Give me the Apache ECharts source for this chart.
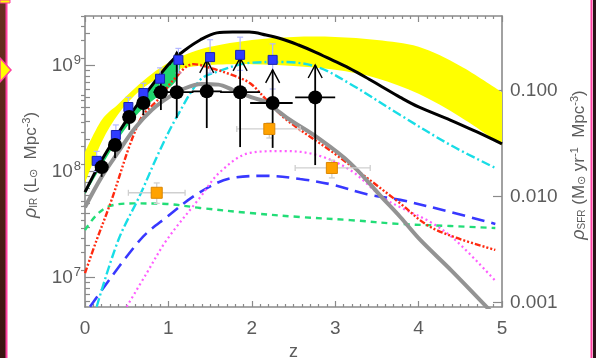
<!DOCTYPE html>
<html>
<head>
<meta charset="utf-8">
<script src="https://cdn.jsdelivr.net/npm/echarts@6/dist/echarts.min.js"></script>
<style>
  html, body { margin: 0; padding: 0; background: #fff; }
  #chart { width: 596px; height: 358px; }
</style>
</head>
<body>
<div id="chart"></div>
<script>
// IR luminosity density vs redshift, with the equivalent star-formation-rate density
// on the right axis (rho_SFR = 1.72e-10 * rho_IR).
const SFR_PER_LIR = 1.72e-10;
const Y_MIN = 5.27e6;
const Y_MAX = 2.93e9;

// x-axis (redshift) range and ticks
const zMin = 0, zMax = 5, zStep = 1;

// left / right tick values
const irMajorTicks = [1e7, 1e8, 1e9];
const irMinorTicks = [6e6, 7e6, 8e6, 9e6, 2e7, 3e7, 4e7, 5e7, 6e7, 7e7, 8e7, 9e7,
                      2e8, 3e8, 4e8, 5e8, 6e8, 7e8, 8e8, 9e8, 2e9];
const sfrMajorTicks = [0.001, 0.01, 0.1];
const sfrMinorTicks = [0.002, 0.003, 0.004, 0.005, 0.006, 0.007, 0.008, 0.009,
                       0.02, 0.03, 0.04, 0.05, 0.06, 0.07, 0.08, 0.09, 0.2, 0.3, 0.4, 0.5];

// yellow uncertainty band
const bandZ    = [0, 0.2, 0.4, 0.6, 0.8, 1.0, 1.2, 1.5, 2.0, 2.5, 3.0, 3.5, 4.0, 4.5, 5.0];
const bandLow  = [7.8e7, 1.9e8, 3.48e8, 5.27e8, 6.98e8, 8.5e8, 9.5e8, 1.01e9, 1.03e9, 9.9e8, 9.1e8, 7.6e8, 5.4e8, 3.27e8, 1.78e8];
const bandHigh = [1.53e8, 3.06e8, 4.34e8, 6.14e8, 8.32e8, 1.06e9, 1.26e9, 1.50e9, 1.74e9, 1.86e9, 1.86e9, 1.74e9, 1.50e9, 9.9e8, 5.6e8];

// green band (low redshift)
const gBandZ    = [0, 0.3, 0.5, 0.7, 0.9, 1.1, 1.15];
const gBandLow  = [6.1e7, 1.53e8, 2.63e8, 3.97e8, 5.3e8, 7.3e8, 1.13e9];
const gBandHigh = [6.7e7, 1.70e8, 3.06e8, 5.0e8, 8.1e8, 1.26e9, 1.34e9];

// model curves
const blackZ   = [0, 0.2, 0.4, 0.54, 0.78, 1.02, 1.2, 1.38, 1.58, 1.77, 1.97, 2.17, 2.36, 2.56, 2.76, 2.96, 3.16, 3.36, 3.56, 3.78, 4.0, 4.38, 4.7, 5.0];
const blackVal = [6.4e7, 1.28e8, 2.31e8, 3.41e8, 6.14e8, 1.06e9, 1.40e9, 1.74e9, 2.03e9, 2.07e9, 2.07e9, 1.94e9, 1.78e9, 1.56e9, 1.34e9, 1.13e9, 9.5e8, 7.8e8, 6.3e8, 5.0e8, 4.06e8, 3.06e8, 2.36e8, 1.82e8];

const grayZ   = [0, 0.2, 0.4, 0.6, 0.8, 1.0, 1.2, 1.4, 1.6, 1.77, 2.0, 2.18, 2.3, 2.46, 2.78, 3.18, 3.56, 3.78, 4.02, 4.4, 4.9];
const grayVal = [4.6e7, 8.9e7, 1.53e8, 2.57e8, 3.8e8, 5.0e8, 6.1e8, 6.7e8, 6.6e8, 5.9e8, 5.0e8, 4.5e8, 3.8e8, 3.06e8, 2.11e8, 1.20e8, 5.7e7, 3.72e7, 2.26e7, 1.15e7, 4.5e6];

const cyanZ   = [0.14, 0.4, 0.66, 0.9, 1.1, 1.38, 1.58, 1.98, 2.37, 2.78, 3.18, 3.78, 4.38, 4.92];
const cyanVal = [5.3e6, 2.26e7, 6.0e7, 1.60e8, 3.27e8, 7.3e8, 8.7e8, 1.06e9, 1.08e9, 9.7e8, 6.7e8, 3.41e8, 1.78e8, 1.08e8];

const redZ   = [0, 0.14, 0.3, 0.66, 0.9, 1.06, 1.3, 1.5, 1.77, 1.98, 2.18, 2.42, 3.0, 3.78, 4.1, 4.46, 4.92];
const redVal = [1.10e7, 2.26e7, 4.9e7, 3.06e8, 5.0e8, 7.3e8, 1.03e9, 9.5e8, 8.1e8, 6.8e8, 4.7e8, 3.06e8, 1.46e8, 5.0e7, 3.13e7, 2.36e7, 1.82e7];

const blueDashZ   = [0.06, 0.66, 0.98, 1.38, 1.77, 2.18, 2.58, 2.97, 3.38, 3.78, 4.38, 4.92];
const blueDashVal = [5.3e6, 2.26e7, 3.72e7, 6.4e7, 8.7e7, 9.1e7, 8.5e7, 7.5e7, 6.1e7, 5.4e7, 4.15e7, 3.2e7];

const pinkZ   = [0.5, 0.74, 0.98, 1.38, 1.62, 1.98, 2.37, 2.78, 3.18, 3.57, 3.78, 4.14, 4.44, 4.92];
const pinkVal = [5.3e6, 1.10e7, 2.26e7, 5.7e7, 9.9e7, 1.50e8, 1.56e8, 1.43e8, 1.03e8, 5.7e7, 4.6e7, 3.34e7, 2.26e7, 9.3e6];

const greenDashZ   = [0, 0.14, 0.3, 0.58, 0.98, 1.38, 1.98, 2.58, 3.18, 3.78, 4.38, 4.92];
const greenDashVal = [2.8e7, 3.9e7, 4.73e7, 5.0e7, 4.94e7, 4.53e7, 4.06e7, 3.72e7, 3.48e7, 3.2e7, 3.06e7, 2.93e7];

// black points: IR measurements (last five are lower limits)
const irZ     = [0.20, 0.36, 0.53, 0.70, 0.91, 1.10, 1.46, 1.86, 2.25, 2.76];
const irVal   = [1.10e8, 1.78e8, 3.27e8, 4.43e8, 5.6e8, 5.6e8, 5.7e8, 5.6e8, 4.43e8, 5.0e8];
const irZLo   = [0.12, 0.29, 0.45, 0.62, 0.82, 0.90, 1.28, 1.62, 1.98, 2.52];
const irZHi   = [0.28, 0.43, 0.61, 0.78, 1.00, 1.30, 1.64, 2.10, 2.49, 3.00];
const irLo    = [8.9e7, 1.34e8, 2.47e8, 3.41e8, 3.8e8, 3.2e8, 2.57e8, 1.70e8, 1.67e8, 1.15e8];
const irHi    = [1.37e8, 2.31e8, 4.2e8, 5.6e8, 7.3e8, 1.34e9, 1.13e9, 1.18e9, 9.1e8, 1.01e9];
const irLimit = [false, false, false, false, false, true, true, true, true, true];

// blue squares
const blueZ   = [0.14, 0.37, 0.52, 0.70, 0.90, 1.12, 1.50, 1.86, 2.25];
const blueVal = [1.26e8, 2.21e8, 4.06e8, 5.5e8, 7.5e8, 1.13e9, 1.20e9, 1.26e9, 1.13e9];
const blueLo  = [1.0e8, 1.75e8, 3.3e8, 4.4e8, 6.0e8, 8.5e8, 8.5e8, 9.0e8, 6.0e8];
const blueHi  = [1.55e8, 2.75e8, 5.0e8, 6.8e8, 9.5e8, 1.45e9, 1.75e9, 1.85e9, 1.6e9];

// orange squares
const orangeZ   = [0.86, 2.21, 2.96];
const orangeVal = [6.3e7, 2.52e8, 1.08e8];
const orangeZLo = [0.52, 1.82, 2.52];
const orangeZHi = [1.20, 2.58, 3.42];
const orangeLo  = [5.0e7, 2.07e8, 8.7e7];
const orangeHi  = [7.8e7, 2.87e8, 1.28e8];

const FONT = '"Liberation Sans", Arial, Helvetica, sans-serif';
const AXIS_GRAY = '#8a8a8a';
const LABEL_GRAY = '#5c5c5c';

function pairs(zs, vs) { return zs.map((z, i) => [z, vs[i]]); }

function curve(zs, vs, color, width, dash, z) {
  return {
    type: 'line', xAxisIndex: 0, yAxisIndex: 0, data: pairs(zs, vs),
    smooth: 0.35, showSymbol: false, symbol: 'none', silent: true, clip: true, z: z,
    lineStyle: { color: color, width: width, type: dash, cap: 'butt', opacity: 1 }
  };
}

// Catmull-Rom smoothed path segment through pixel points (continuing an open path)
function smoothSegments(pts) {
  let d = '';
  for (let i = 0; i < pts.length - 1; i++) {
    const p0 = pts[Math.max(i - 1, 0)], p1 = pts[i], p2 = pts[i + 1], p3 = pts[Math.min(i + 2, pts.length - 1)];
    const c1 = [p1[0] + (p2[0] - p0[0]) / 6, p1[1] + (p2[1] - p0[1]) / 6];
    const c2 = [p2[0] - (p3[0] - p1[0]) / 6, p2[1] - (p3[1] - p1[1]) / 6];
    d += ' C' + c1[0] + ' ' + c1[1] + ' ' + c2[0] + ' ' + c2[1] + ' ' + p2[0] + ' ' + p2[1];
  }
  return d;
}

function band(zs, lows, highs, color, z) {
  return {
    type: 'custom', xAxisIndex: 0, yAxisIndex: 0, clip: true, silent: true, z: z,
    encode: { x: 0, y: 1 },
    data: [[zs[0], lows[0]]],
    renderItem: function (params, api) {
      const top = zs.map((zz, i) => api.coord([zz, highs[i]]));
      const bot = zs.map((zz, i) => api.coord([zz, lows[i]])).reverse();
      let d = 'M' + top[0][0] + ' ' + top[0][1] + smoothSegments(top);
      d += ' L' + bot[0][0] + ' ' + bot[0][1] + smoothSegments(bot) + ' Z';
      return { type: 'path', shape: { pathData: d }, style: { fill: color, stroke: null } };
    }
  };
}

function errorBars(zs, vs, zlo, zhi, vlo, vhi, opts) {
  return {
    type: 'custom', xAxisIndex: 0, yAxisIndex: 0, clip: true, silent: true, z: opts.z,
    encode: { x: 0, y: 1 },
    data: zs.map((z, i) => [z, vs[i], zlo[i], zhi[i], vlo[i], vhi[i]]),
    renderItem: function (params, api) {
      const i = params.dataIndex;
      const z = api.value(0), v = api.value(1);
      const c = api.coord([z, v]);
      const xl = api.coord([api.value(2), v])[0];
      const xh = api.coord([api.value(3), v])[0];
      const yl = api.coord([z, api.value(4)])[1];
      const yh = api.coord([z, api.value(5)])[1];
      const st = { stroke: opts.color, lineWidth: opts.width, fill: null };
      const kids = [];
      if (xh - xl > 0.5) kids.push({ type: 'line', shape: { x1: xl, y1: c[1], x2: xh, y2: c[1] }, style: st });
      kids.push({ type: 'line', shape: { x1: c[0], y1: yl, x2: c[0], y2: yh }, style: st });
      if (opts.cap) {
        const k = opts.cap;
        kids.push({ type: 'line', shape: { x1: c[0] - k, y1: yl, x2: c[0] + k, y2: yl }, style: st });
        kids.push({ type: 'line', shape: { x1: c[0] - k, y1: yh, x2: c[0] + k, y2: yh }, style: st });
        if (xh - xl > 0.5) {
          kids.push({ type: 'line', shape: { x1: xl, y1: c[1] - k, x2: xl, y2: c[1] + k }, style: st });
          kids.push({ type: 'line', shape: { x1: xh, y1: c[1] - k, x2: xh, y2: c[1] + k }, style: st });
        }
      }
      if (opts.limits && opts.limits[i]) {
        kids.push({ type: 'polyline',
          shape: { points: [[c[0] - 7, yh + 13], [c[0], yh], [c[0] + 7, yh + 13]] },
          style: { stroke: opts.color, lineWidth: 1.4, fill: null } });
      }
      return { type: 'group', children: kids };
    }
  };
}

const tickStyle = { color: AXIS_GRAY, width: 1.2 };
const lineStyle = { color: AXIS_GRAY, width: 1.6 };

const xAxes = [
  { type: 'value', position: 'bottom', min: zMin, max: zMax, interval: zStep,
    axisLine: { show: true, onZero: false, lineStyle: lineStyle },
    axisTick: { show: true, inside: true, length: 6, lineStyle: tickStyle },
    minorTick: { show: true, splitNumber: 10, length: 3, lineStyle: tickStyle },
    splitLine: { show: false }, minorSplitLine: { show: false },
    axisLabel: { margin: 12, fontSize: 19, color: LABEL_GRAY, fontFamily: FONT },
    name: 'z', nameLocation: 'middle', nameGap: 35,
    nameTextStyle: { fontSize: 18, color: LABEL_GRAY, fontFamily: FONT } },
  { type: 'value', position: 'top', min: zMin, max: zMax, interval: zStep,
    axisLine: { show: true, onZero: false, lineStyle: lineStyle },
    axisTick: { show: true, inside: true, length: 6, lineStyle: tickStyle },
    minorTick: { show: true, splitNumber: 10, length: 3, lineStyle: tickStyle },
    splitLine: { show: false }, axisLabel: { show: false } }
];

const yAxes = [
  { type: 'log', logBase: 10, position: 'left', min: Y_MIN, max: Y_MAX,
    axisLine: { show: true, onZero: false, lineStyle: lineStyle },
    axisTick: { show: true, inside: true, length: 10, lineStyle: tickStyle, customValues: irMajorTicks },
    minorTick: { show: false }, splitLine: { show: false },
    axisLabel: { show: true, margin: 4, customValues: irMajorTicks,
      formatter: function (v) { return '{b|10}{s|' + Math.round(Math.log10(v)) + '}'; },
      rich: {
        b: { fontSize: 19, color: LABEL_GRAY, fontFamily: FONT },
        s: { fontSize: 13, color: LABEL_GRAY, fontFamily: FONT, padding: [0, 0, 10, 1] }
      } } },
  { type: 'log', logBase: 10, position: 'left', min: Y_MIN, max: Y_MAX,
    axisLine: { show: false },
    axisTick: { show: true, inside: true, length: 5, lineStyle: tickStyle, customValues: irMinorTicks },
    axisLabel: { show: false }, splitLine: { show: false }, minorTick: { show: false } },
  { type: 'log', logBase: 10, position: 'right', min: Y_MIN * SFR_PER_LIR, max: Y_MAX * SFR_PER_LIR,
    axisLine: { show: true, onZero: false, lineStyle: lineStyle },
    axisTick: { show: true, inside: true, length: 9, lineStyle: tickStyle, customValues: sfrMajorTicks },
    minorTick: { show: false }, splitLine: { show: false },
    axisLabel: { show: true, margin: 8, customValues: sfrMajorTicks, fontSize: 19,
      color: LABEL_GRAY, fontFamily: FONT,
      formatter: function (v) { return v.toFixed(3); } } },
  { type: 'log', logBase: 10, position: 'right', min: Y_MIN * SFR_PER_LIR, max: Y_MAX * SFR_PER_LIR,
    axisLine: { show: false },
    axisTick: { show: true, inside: true, length: 4, lineStyle: tickStyle, customValues: sfrMinorTicks },
    axisLabel: { show: false }, splitLine: { show: false }, minorTick: { show: false } }
];

const series = [
  band(bandZ, bandLow, bandHigh, '#ffff00', 1),
  band(gBandZ, gBandLow, gBandHigh, '#1fd66e', 2),
  curve(greenDashZ, greenDashVal, '#22dd77', 2.4, [6, 5], 3),
  curve(blueDashZ, blueDashVal, '#3838ff', 2.6, [13, 7], 3),
  curve(pinkZ, pinkVal, '#ff5cff', 2.2, [2, 3], 3),
  curve(cyanZ, cyanVal, '#18dde6', 2.4, [9, 3, 2, 3], 3),
  curve(redZ, redVal, '#ff2a10', 2.4, [6, 2, 2, 2, 2, 2, 2, 2], 3),
  curve(grayZ, grayVal, '#939393', 4, 'solid', 4),
  curve(blackZ, blackVal, '#000000', 3, 'solid', 5),
  errorBars(orangeZ, orangeVal, orangeZLo, orangeZHi, orangeLo, orangeHi,
    { color: '#cfcfcf', width: 1.3, cap: 3, z: 6 }),
  errorBars(blueZ, blueVal, blueZ, blueZ, blueLo, blueHi,
    { color: '#b4b8ff', width: 1.2, cap: 3, z: 6 }),
  errorBars(irZ, irVal, irZLo, irZHi, irLo, irHi,
    { color: '#000000', width: 1.8, limits: irLimit, z: 7 }),
  { type: 'scatter', xAxisIndex: 0, yAxisIndex: 0, data: pairs(orangeZ, orangeVal), silent: true, z: 8,
    symbol: 'rect', symbolSize: 11,
    itemStyle: { color: '#ffa200', borderColor: '#dc8600', borderWidth: 1, opacity: 1 } },
  { type: 'scatter', xAxisIndex: 0, yAxisIndex: 0, data: pairs(blueZ, blueVal), silent: true, z: 8,
    symbol: 'rect', symbolSize: 9,
    itemStyle: { color: '#2f3cff', borderColor: '#1a24b0', borderWidth: 1, opacity: 1 } },
  { type: 'scatter', xAxisIndex: 0, yAxisIndex: 0, data: pairs(irZ, irVal), silent: true, z: 9,
    symbol: 'circle', symbolSize: 14, itemStyle: { color: '#000000', opacity: 1 } }
];

const titleRich = {
  r: { fontSize: 18, fontStyle: 'italic', fill: LABEL_GRAY, fontFamily: FONT },
  sub: { fontSize: 10, fill: LABEL_GRAY, fontFamily: FONT, padding: [6, 0, 0, 0] },
  n: { fontSize: 17, fill: LABEL_GRAY, fontFamily: FONT },
  sun: { fontSize: 11, fill: LABEL_GRAY, fontFamily: FONT, padding: [6, 0, 0, 0] },
  sup: { fontSize: 11, fill: LABEL_GRAY, fontFamily: FONT, padding: [0, 0, 9, 0] }
};

const chart = echarts.init(document.getElementById('chart'), null, { renderer: 'canvas' });
chart.setOption({
  animation: false,
  backgroundColor: '#ffffff',
  textStyle: { fontFamily: FONT },
  grid: { left: 85, right: 94, top: 16, bottom: 51, containLabel: false, outerBoundsMode: 'none' },
  xAxis: xAxes,
  yAxis: yAxes,
  series: series,
  graphic: [
    // slide frame at the left and right edges
    { type: 'rect', shape: { x: 0, y: 0, width: 6, height: 358 },
      style: { fill: new echarts.graphic.LinearGradient(0, 0, 0, 1,
        [{ offset: 0, color: '#6a3020' }, { offset: 1, color: '#3a1412' }]) } },
    { type: 'line', shape: { x1: 6.5, y1: 0, x2: 6.5, y2: 358 }, style: { stroke: '#ff3f9f', lineWidth: 2 } },
    { type: 'rect', shape: { x: 0, y: 0, width: 10, height: 3 },
      style: { fill: '#ffff00', stroke: '#ff3f9f', lineWidth: 1 } },
    { type: 'polygon', shape: { points: [[0, 58], [11, 70], [0, 82]] },
      style: { fill: '#ffff00', stroke: '#ff3f9f', lineWidth: 1.5 } },
    { type: 'rect', shape: { x: 593, y: 0, width: 3, height: 358 }, style: { fill: '#2a1418' } },
    { type: 'line', shape: { x1: 591.5, y1: 0, x2: 591.5, y2: 358 }, style: { stroke: '#ff3f9f', lineWidth: 2 } },
    // axis titles
    { type: 'text', x: 31, y: 165, rotation: Math.PI / 2,
      style: { text: '{r|ρ}{sub|IR}{n| (L}{sun|⊙}{n|  Mpc}{sup|-3}{n|)}', rich: titleRich,
        align: 'center', verticalAlign: 'middle' } },
    { type: 'text', x: 579, y: 165, rotation: Math.PI / 2,
      style: { text: '{r|ρ}{sub|SFR}{n| (M}{sun|⊙}{n| yr}{sup|-1}{n|  Mpc}{sup|-3}{n|)}', rich: titleRich,
        align: 'center', verticalAlign: 'middle' } }
  ]
});
</script>
</body>
</html>
